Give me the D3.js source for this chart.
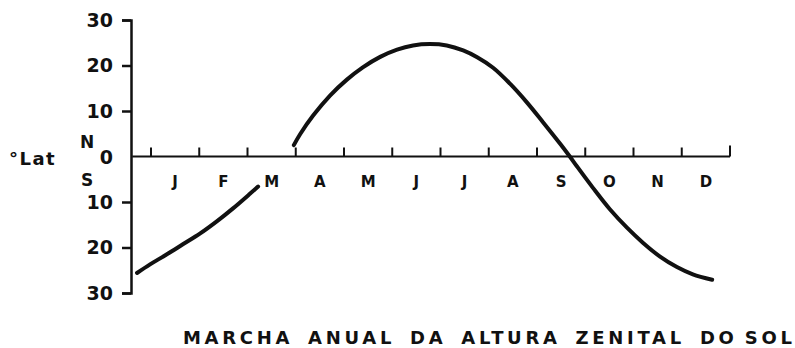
<!DOCTYPE html>
<html>
<head>
<meta charset="utf-8">
<script src="https://cdn.jsdelivr.net/npm/d3@7"></script>
<style>
  body { margin: 0; background: #fff; }
  text { font-family: "DejaVu Sans", sans-serif; fill: #111; }
</style>
</head>
<body>
<div id="vis"></div>
<script>
// month labels and the latitude ticks
const monthLabels = ['J', 'F', 'M', 'A', 'M', 'J', 'J', 'A', 'S', 'O', 'N', 'D'];
const latTicks = [-30, -20, -10, 10, 20, 30];

// sun's zenith latitude (month 0 = 1 Jan)
const monthsSouth = [-0.29, -0.02, 0.33, 0.66, 1.02, 1.37, 1.70, 2.05, 2.22];
const latSouth = [-25.6, -23.7, -21.5, -19.3, -16.9, -14.2, -11.4, -8.2, -6.6];

const monthsNorth = [2.96, 3.09, 3.36, 3.71, 4.06, 4.39, 4.75, 5.10, 5.43, 5.78, 6.13, 6.47, 6.76, 7.09,
  7.44, 7.79, 8.12, 8.48, 8.68, 8.83, 9.16, 9.51, 9.87, 10.20, 10.55, 10.90, 11.23, 11.63];
const latNorth = [2.5, 4.9, 9.0, 13.4, 16.9, 19.6, 21.9, 23.5, 24.4, 24.7, 24.4, 23.3, 21.8, 19.5,
  16.0, 11.9, 7.6, 2.8, 0, -2.2, -6.9, -11.6, -15.7, -19.0, -22.0, -24.3, -25.9, -27.1];

const W = 795, H = 348;

let svg = d3.select('#vis')
  .append('svg')
  .attr('width', W)
  .attr('height', H);

// scales
let x = d3.scaleLinear().domain([0, 12]).range([151, 730]);
let y = d3.scaleLinear().domain([-30, 30]).range([293, 20]);
const xStart = -0.39;

// y axis (left ticks, outer ticks give the bracket ends)
let yAxis = svg.append('g')
  .attr('transform', 'translate(131,0)')
  .call(d3.axisLeft(y).tickValues(latTicks).tickSize(9).tickSizeOuter(9).tickPadding(9)
    .tickFormat(d => Math.abs(d)));
yAxis.select('.domain').attr('stroke-width', 2.5).attr('stroke', '#111');
yAxis.selectAll('.tick line').attr('stroke-width', 2.5).attr('stroke', '#111');
yAxis.selectAll('.tick text')
  .style('font-size', '19px')
  .style('font-weight', 'bold')
  .attr('font-family', null)
  .attr('fill', '#111');

// x axis: line at 0 with upward month-boundary ticks
svg.append('line')
  .attr('x1', x(xStart)).attr('x2', x(12))
  .attr('y1', y(0)).attr('y2', y(0))
  .attr('stroke', '#111').attr('stroke-width', 2);

svg.append('g')
  .selectAll('line')
  .data(d3.range(0, 13))
  .join('line')
  .attr('x1', d => x(d)).attr('x2', d => x(d))
  .attr('y1', y(0))
  .attr('y2', d => y(0) - (d === 12 ? 11 : 9))
  .attr('stroke', '#111').attr('stroke-width', 2);

// month labels between ticks
svg.append('g')
  .selectAll('text')
  .data(monthLabels)
  .join('text')
  .attr('x', (d, i) => x(i + 0.5))
  .attr('y', 187)
  .attr('text-anchor', 'middle')
  .style('font-size', '15px')
  .style('font-weight', 'bold')
  .text(d => d);

// the sun curve, drawn in two pieces
let line = d3.line()
  .x(d => x(d[0]))
  .y(d => y(d[1]))
  .curve(d3.curveCatmullRom);

[[monthsSouth, latSouth], [monthsNorth, latNorth]].forEach(function(s) {
  svg.append('path')
    .datum(d3.zip(s[0], s[1]))
    .attr('d', line)
    .attr('fill', 'none')
    .attr('stroke', '#111')
    .attr('stroke-width', 4)
    .attr('stroke-linecap', 'round');
});

// zero, N / S and the axis name
svg.append('text').attr('x', 113).attr('y', 164).attr('text-anchor', 'end')
  .style('font-size', '19px').style('font-weight', 'bold').text('0');
svg.append('text').attr('x', 80).attr('y', 148)
  .style('font-size', '17px').style('font-weight', 'bold').text('N');
svg.append('text').attr('x', 81).attr('y', 186)
  .style('font-size', '17px').style('font-weight', 'bold').text('S');
svg.append('text').attr('x', 9).attr('y', 165)
  .style('font-size', '18px').style('font-weight', 'bold')
  .style('letter-spacing', '1.5px').text('°Lat');

// title
svg.append('text')
  .attr('x', 183).attr('y', 344)
  .attr('textLength', 609)
  .attr('lengthAdjust', 'spacing')
  .style('font-size', '18px')
  .style('font-weight', 'bold')
  .style('word-spacing', '5px')
  .text('MARCHA ANUAL DA ALTURA ZENITAL DO\u2009SOL');
</script>
</body>
</html>
